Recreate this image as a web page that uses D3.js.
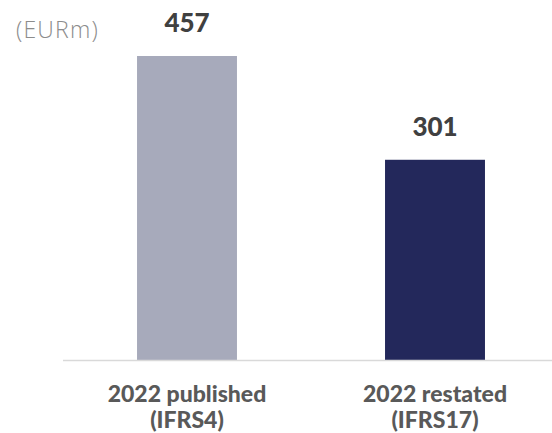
<!DOCTYPE html>
<html><head><meta charset="utf-8">
<script src="https://cdn.jsdelivr.net/npm/d3@7"></script>
<style>body{margin:0;background:#fff}svg{display:block}</style>
</head><body>
<svg id="c" width="552" height="433"></svg>
<script>
const categories = [["2022 published","(IFRS4)"],["2022 restated","(IFRS17)"]];
const values = [457, 301];
const colors = ["#a7aabb", "#23285b"];
const unitLabel = "(EURm)";

const svg = d3.select("#c");
const baseY = 360;
const x = d3.scaleBand().domain(d3.range(values.length)).range([63, 559]).paddingInner(0.597).paddingOuter(0.2985);
const y = d3.scaleLinear().domain([0, 457]).range([baseY, 56]);

svg.selectAll("rect.bar").data(values).join("rect")
  .attr("class","bar")
  .attr("x",(d,i)=>x(i)).attr("width",x.bandwidth())
  .attr("y",d=>y(d)).attr("height",d=>baseY-y(d))
  .attr("fill",(d,i)=>colors[i]);

svg.append("line").attr("x1",63).attr("x2",552).attr("y1",baseY+0.5).attr("y2",baseY+0.5)
  .attr("stroke","#d9d9d9").attr("stroke-width",1.5);

svg.selectAll("text.val").data(values).join("text")
  .attr("class","val")
  .attr("x",(d,i)=>x(i)+x.bandwidth()/2).attr("y",d=>y(d)-24)
  .attr("text-anchor","middle")
  .style("font-family","Lato, sans-serif").style("font-weight","900").style("font-size","26px")
  .attr("fill","#404040").text(d=>d);

const cat = svg.selectAll("text.cat").data(categories).join("text")
  .attr("class","cat")
  .attr("text-anchor","middle")
  .style("font-family","Lato, sans-serif").style("font-weight","900").style("font-size","23px")
  .attr("fill","#595959");
cat.each(function(d,i){
  const t=d3.select(this);
  d.forEach((line,j)=>{
    t.append("tspan").attr("x",x(i)+x.bandwidth()/2).attr("y",402+j*26).text(line);
  });
});

svg.append("text").attr("x",16).attr("y",38)
  .style("font-family","'Open Sans', sans-serif").style("font-weight","300").style("font-size","23px")
  .style("letter-spacing","1.2px")
  .attr("fill","#8c8c8c").text(unitLabel);
</script>
</body></html>
